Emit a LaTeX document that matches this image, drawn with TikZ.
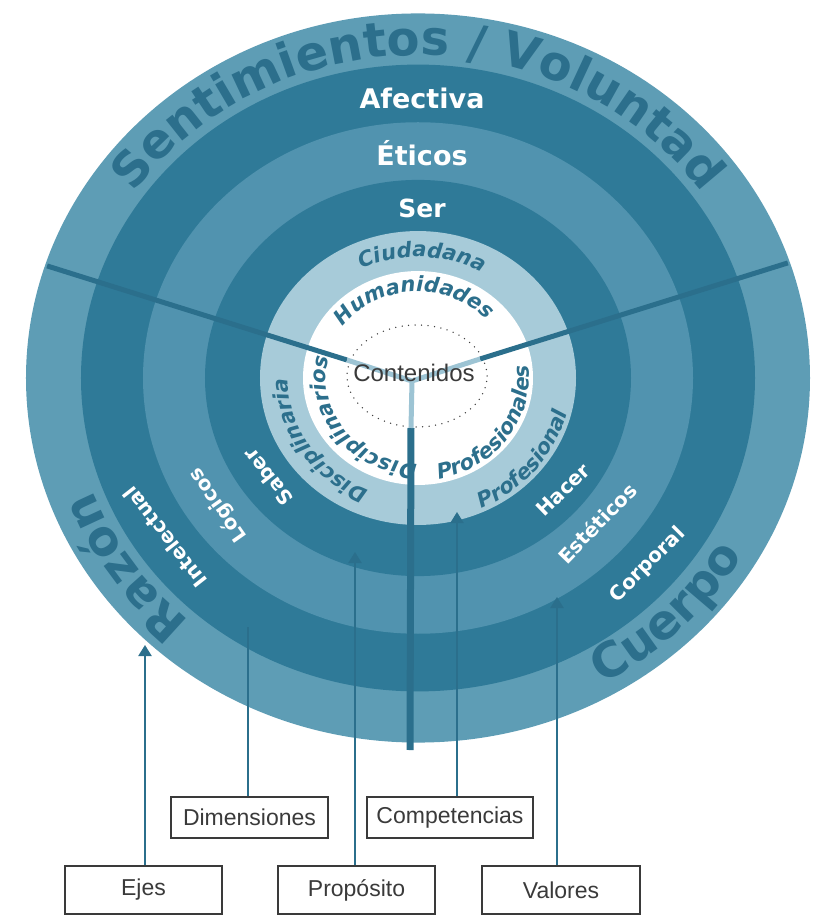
\documentclass[tikz,border=0pt]{standalone}
\usepackage{fontspec}
\setmainfont{Liberation Sans}
\newfontfamily\dvs{DejaVu Sans}
\usetikzlibrary{arrows.meta,decorations.text}
\definecolor{ringA}{HTML}{5E9DB5}
\definecolor{ringB}{HTML}{2F7A98}
\definecolor{ringC}{HTML}{5193AF}
\definecolor{ringD}{HTML}{A7CBD9}
\definecolor{inkA}{HTML}{2C6F8C}
\definecolor{spoke}{HTML}{2B6F8C}
\definecolor{spokeL}{HTML}{9DC4D4}
\definecolor{boxink}{HTML}{3A3A3A}
\newcommand\bigfmt{\dvs\bfseries\fontsize{48}{48}\selectfont}
\newcommand\smlfmt{\dvs\bfseries\itshape\fontsize{21}{21}\selectfont}
\begin{document}
\begin{tikzpicture}[x=1pt,y=1pt,
  wlab/.style={text=white,font=\dvs\bfseries\fontsize{20}{20}\selectfont,inner sep=0pt},
  toplab/.style={wlab,font=\dvs\bfseries\fontsize{27}{27}\selectfont},
  arctxt/.style={decorate,decoration={text along path,text align=center,text color=inkA,text={#1}}},
  caja/.style={draw=boxink,line width=1.5pt,text=boxink,minimum height=41pt,font=\fontsize{23}{23}\selectfont},
  flecha/.style={spoke,line width=2.2pt,-{Triangle[width=13pt,length=11pt]}}]
\useasboundingbox (-418,-539) rectangle (396,378);
\foreach \r/\c in {392/ringA,337/ringB,275/ringC,213/ringB,158/ringD,115/white}
  \fill[\c] (0,0) ellipse [x radius=\r, y radius=0.93*\r];
\draw[black!75,line width=1.5pt,line cap=round,dash pattern=on 0pt off 6.5pt] (-1,2) ellipse [x radius=70, y radius=51];
% ejes del centro
\coordinate (L) at (162:390 and 362.7);
\coordinate (R) at (18.5:390 and 362.7);
\coordinate (Lj) at (-71,18);
\coordinate (Rj) at (62,19);
\coordinate (Y) at (-6,-3);
\coordinate (Sj) at (-7,-50);
\coordinate (S) at (-8,-372);
\draw[spoke,line width=5pt] (L) -- (Lj) (R) -- (Rj);
\draw[spoke,line width=7pt] (Sj) -- (S);
\draw[spokeL,line width=5pt,line join=round] (Lj) -- (Y) -- (Rj) (Y) -- (Sj);
\node[text=boxink,font=\fontsize{24}{24}\selectfont] (cont) at (-4,5) {Contenidos};
\foreach \n/\y/\s [count=\i] in {Afectiva/280/27,Éticos/225/27,Ser/170/25}
  \node[toplab,font=\dvs\bfseries\fontsize{\s}{\s}\selectfont] (t\i) at (4,\y) {\n};
\foreach \n/\p/\a [count=\i] in {Intelectual/{-253,-159}/128,Lógicos/{-200,-127}/125,Saber/{-150,-99}/128,
    Hacer/{145,-112}/44,Estéticos/{179,-145}/46,Corporal/{230,-187}/45}
  \node[wlab,rotate=\a] (w\i) at (\p) {\n};
\path[arctxt={|\bigfmt|Sentimientos / Voluntad}] (165:347 and 322.7) arc[start angle=165,end angle=15,x radius=347,y radius=322.7];
\path[arctxt={|\bigfmt|Razón}] (250:347 and 322.7) arc[start angle=250,end angle=178,x radius=347,y radius=322.7];
\path[arctxt={|\bigfmt|Cuerpo}] (280:377 and 350.6) arc[start angle=280,end angle=350,x radius=377,y radius=350.6];
\path[arctxt={|\smlfmt|Ciudadana}] (150:130 and 121) arc[start angle=150,end angle=26,x radius=130,y radius=121];
\path[arctxt={|\smlfmt|Humanidades}] (175:93 and 86.5) arc[start angle=175,end angle=11,x radius=93,y radius=86.5];
\path[arctxt={|\smlfmt|Disciplinaria}] (275:130 and 121) arc[start angle=275,end angle=151,x radius=130,y radius=121];
\path[arctxt={|\smlfmt|Disciplinarios}] (292:92 and 85.6) arc[start angle=292,end angle=142,x radius=92,y radius=85.6];
\path[arctxt={|\smlfmt|Profesional}] (270:154 and 143.2) arc[start angle=270,end angle=372,x radius=154,y radius=143.2];
\path[arctxt={|\smlfmt|Profesionales}] (250:111 and 103.2) arc[start angle=250,end angle=400,x radius=111,y radius=103.2];
% cajas
\node[caja,minimum width=157pt] (dim) at (-168.5,-439.5) {Dimensiones};
\node[caja,minimum width=166pt] (comp) at (32,-439.5) {Competencias};
\node[caja,minimum width=157pt,minimum height=48pt] (ejes) at (-274.5,-512) {Ejes};
\node[caja,minimum width=157pt,minimum height=48pt] (prop) at (-61.5,-512) {Propósito};
\node[caja,minimum width=158pt,minimum height=48pt] (val) at (143,-512) {Valores};
\coordinate (tE) at (-273,-267);
\coordinate (tD) at (-170,-249);
\coordinate (tP) at (-63,-174);
\coordinate (tC) at (39,-134);
\coordinate (tV) at (139,-219);
\draw[flecha] (ejes.north -| tE) -- (tE);
\draw[spoke,line width=2.2pt] (dim.north -| tD) -- (tD);
\draw[flecha] (prop.north -| tP) -- (tP);
\draw[flecha] (comp.north -| tC) -- (tC);
\draw[flecha] (val.north -| tV) -- (tV);
\end{tikzpicture}
\end{document}
